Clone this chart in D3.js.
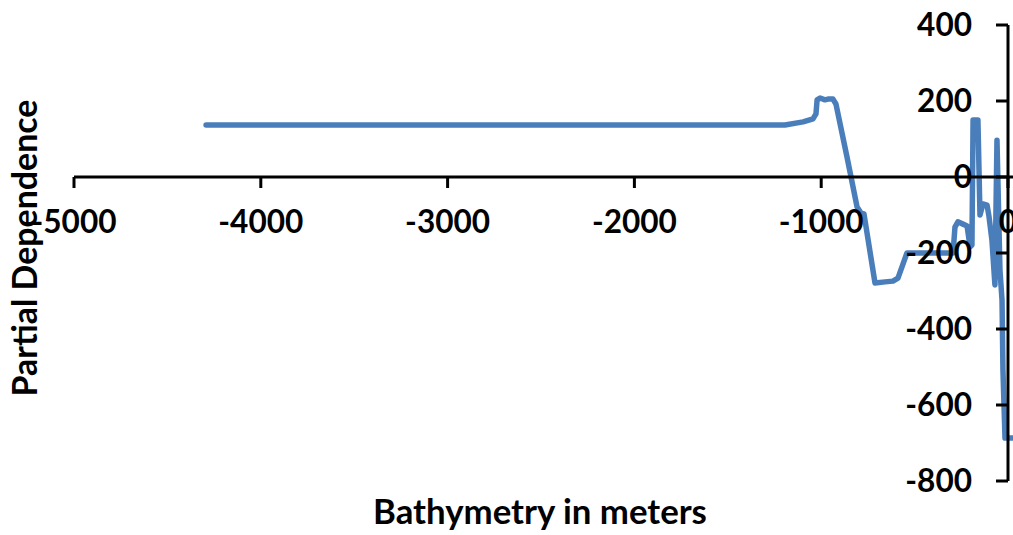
<!DOCTYPE html>
<html>
<head>
<meta charset="utf-8">
<script src="https://cdn.jsdelivr.net/npm/d3@7"></script>
<style>
  html, body { margin: 0; padding: 0; background: #fff; overflow: hidden; }
  svg { display: block; }
  text { font-family: Lato, "Open Sans", sans-serif; font-weight: 700; fill: #000; }
</style>
</head>
<body>
<svg id="chart" width="1013" height="535"></svg>
<script>
// Partial dependence on bathymetry (depth in metres, negative below sea level)
const depth = [
  -4293, -1194, -1097, -1044, -1028, -1022, -1006, -980, -964, -937,
  -921, -862, -808, -787, -771, -712, -658, -616, -589, -541,
  -294, -284, -268, -241, -219, -203, -193, -187, -161, -150,
  -134, -112, -102, -86, -70, -59, -43, -32, -27, -16, 25
];
const dependence = [
  137, 137, 145, 153, 166, 203, 208, 203, 205, 205,
  192, 53, -79, -95, -97, -279, -276, -274, -266, -200,
  -200, -132, -118, -124, -129, -184, -179, 150, 150, -100,
  -71, -74, -103, -166, -284, 97, -245, -324, -508, -687, -687
];
const xTicks = [-5000, -4000, -3000, -2000, -1000, 0];
const yTicks = [400, 200, 0, -200, -400, -600, -800];
const xTitle = "Bathymetry in meters";
const yTitle = "Partial Dependence";

const svg = d3.select("#chart");

// x axis runs -5000 .. 1000; the right part falls outside the frame
const x = d3.scaleLinear().domain([-5000, 0]).range([74, 1008]);
const y = d3.scaleLinear().domain([-800, 400]).range([481, 25]);

const lineColor = "#4a7ebb";
const label = d => String(d);   // plain hyphen-minus

// shrink/grow a text node's font until it spans the wanted width
function fitFont(sample, width, base) {
  const t = svg.append("text").attr("font-size", base).text(sample);
  const w = t.node().getComputedTextLength();
  t.remove();
  return base * width / w;
}
const tickSize = fitFont("-4000", 85, 30);
const xTitleSize = fitFont(xTitle, 334, 28);
const yTitleSize = fitFont(yTitle, 297, 28);

// series line
const line = d3.line().x((d, i) => x(depth[i])).y(d => y(d));
svg.append("path")
  .datum(dependence)
  .attr("d", line)
  .attr("fill", "none")
  .attr("stroke", lineColor)
  .attr("stroke-width", 5.5)
  .attr("stroke-linejoin", "round")
  .attr("stroke-linecap", "round");

// horizontal axis at y = 0
const xAxisG = svg.append("g").attr("transform", `translate(0,${y(0)})`);
xAxisG.append("line")
  .attr("x1", x(-5000)).attr("x2", x(1000))
  .attr("stroke", "#000").attr("stroke-width", 3);
xAxisG.selectAll("line.tick").data(xTicks).join("line")
  .attr("class", "tick")
  .attr("x1", d => x(d)).attr("x2", d => x(d))
  .attr("y1", 0).attr("y2", 11)
  .attr("stroke", "#000").attr("stroke-width", 3);
xAxisG.selectAll("text").data(xTicks).join("text")
  .attr("x", d => x(d))
  .attr("y", 45)
  .attr("dy", "0.35em")
  .attr("text-anchor", "middle")
  .attr("font-size", tickSize)
  .text(label);

// vertical axis at x = 0
const yAxisG = svg.append("g").attr("transform", `translate(${x(0)},0)`);
yAxisG.append("line")
  .attr("y1", y(400)).attr("y2", y(-800))
  .attr("stroke", "#000").attr("stroke-width", 3);
yAxisG.selectAll("line.tick").data(yTicks).join("line")
  .attr("class", "tick")
  .attr("x1", -12).attr("x2", 0)
  .attr("y1", d => y(d)).attr("y2", d => y(d))
  .attr("stroke", "#000").attr("stroke-width", 3);
yAxisG.selectAll("text").data(yTicks).join("text")
  .attr("x", -36)
  .attr("y", d => y(d))
  .attr("dy", "0.35em")
  .attr("text-anchor", "end")
  .attr("font-size", tickSize)
  .text(label);

// axis titles
svg.append("text")
  .attr("x", 540).attr("y", 512)
  .attr("dy", "0.35em")
  .attr("text-anchor", "middle")
  .attr("font-size", xTitleSize)
  .text(xTitle);

svg.append("text")
  .attr("transform", "translate(25,248) rotate(-90)")
  .attr("dy", "0.35em")
  .attr("text-anchor", "middle")
  .attr("font-size", yTitleSize)
  .text(yTitle);
</script>
</body>
</html>
